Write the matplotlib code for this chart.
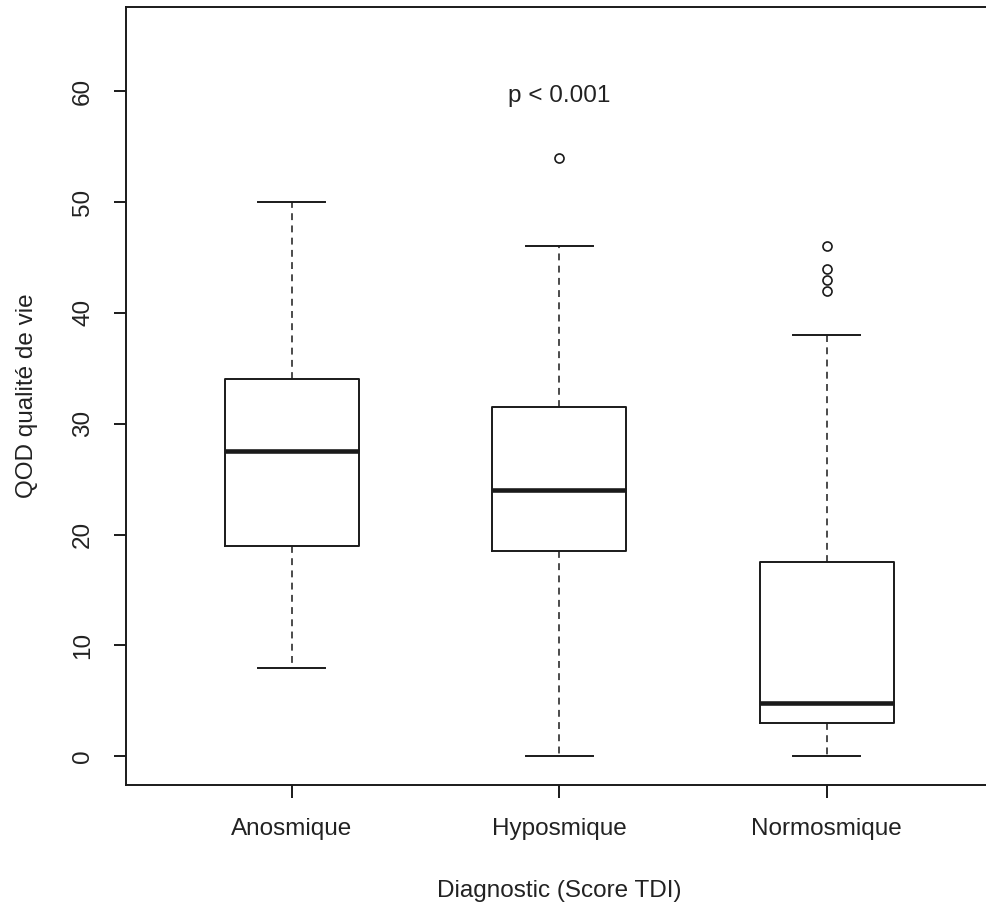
import matplotlib.pyplot as plt

# QOD quality-of-life score by olfactory diagnosis (TDI score)
GROUPS = ["Anosmique", "Hyposmique", "Normosmique"]
WHISKER_LOW = [8, 0, 0]
Q1 = [19, 18.5, 3]
MEDIAN = [27.5, 24, 4.8]
Q3 = [34, 31.5, 17.5]
WHISKER_HIGH = [50, 46, 38]
OUTLIERS = [[], [54], [42, 43, 44, 46]]
Y_TICKS = [0, 10, 20, 30, 40, 50, 60]
P_LABEL = "p < 0.001"

plt.rcParams["font.family"] = ["Liberation Sans", "DejaVu Sans"]
FS = 17.5
INK = "#1a1a1a"

stats = [
    {"label": g, "whislo": lo, "q1": a, "med": m, "q3": b, "whishi": hi, "fliers": fl}
    for g, lo, a, m, b, hi, fl in zip(GROUPS, WHISKER_LOW, Q1, MEDIAN, Q3, WHISKER_HIGH, OUTLIERS)
]

fig = plt.figure(figsize=(9.86, 9.06), dpi=100)
# plot region runs slightly past the right edge, as in the exported figure
ax = fig.add_axes([126 / 986, 121 / 906, 866.5 / 986, 778 / 906])

ax.bxp(
    stats,
    positions=[1, 2, 3],
    widths=0.5,
    boxprops=dict(color=INK, linewidth=1.4),
    medianprops=dict(color=INK, linewidth=3.3),
    whiskerprops=dict(color=INK, linewidth=1.1, linestyle=(0, (4.5, 3.5))),
    capprops=dict(color=INK, linewidth=1.4),
    flierprops=dict(marker="o", markerfacecolor="none", markeredgecolor=INK,
                    markersize=6.5, markeredgewidth=1.2),
)

ax.set_xlim(0.38, 3.62)
ax.set_ylim(-2.6, 67.6)
ax.set_yticks(Y_TICKS)
ax.set_yticklabels([str(t) for t in Y_TICKS], rotation=90, va="center")
ax.set_xticks([1, 2, 3])
ax.set_xticklabels(GROUPS)

for s in ax.spines.values():
    s.set_linewidth(1.4)
    s.set_color(INK)
ax.tick_params(axis="both", length=9, width=1.4, color=INK, labelsize=FS, labelcolor="#222222")
ax.tick_params(axis="y", pad=14)
ax.tick_params(axis="x", pad=15)

ax.text(2, 59.6, P_LABEL, ha="center", va="center", fontsize=FS, color="#222222")

ax.set_xlabel("Diagnostic (Score TDI)", fontsize=FS, color="#222222")
ax.set_ylabel("QOD qualité de vie", fontsize=FS, color="#222222")
ax.xaxis.set_label_coords(0.5, -0.122)
ax.yaxis.set_label_coords(-0.1016, 0.5)

fig.savefig("out.png", dpi=100)
